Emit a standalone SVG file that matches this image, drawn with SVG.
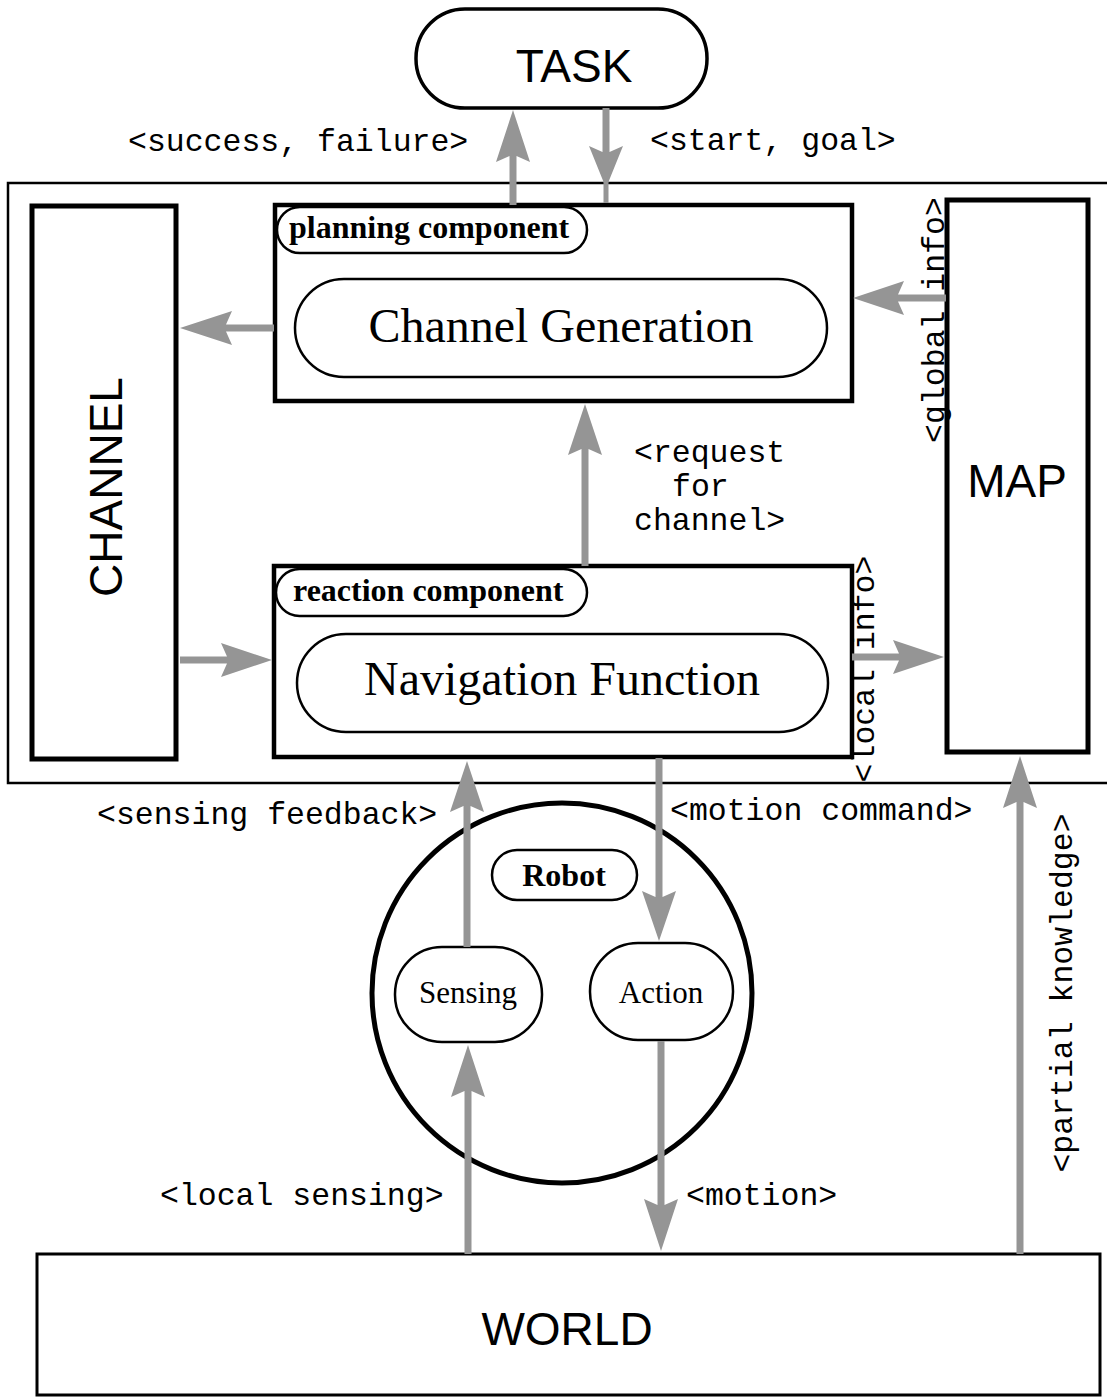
<svg xmlns="http://www.w3.org/2000/svg" width="1107" height="1399" viewBox="0 0 1107 1399">
<style>
.box{fill:#fff;stroke:#000;stroke-width:5}
.pill{fill:#fff;stroke:#000;stroke-width:2.5}
.big{font-family:"Liberation Sans",Arial,sans-serif;font-size:46px;fill:#000}
.serif{font-family:"Liberation Serif","Times New Roman",serif;fill:#000}
.mono{font-family:"Liberation Mono","Courier New",monospace;font-size:31.5px;fill:#000}
.arr{fill:#959595;stroke:none}
</style>
<rect width="1107" height="1399" fill="#fff"/>
<g id="frame"><path d="M1107,183 H8 V783 H1107" fill="none" stroke="#000" stroke-width="2.5"/></g>

<g id="task">
<rect x="416" y="9" width="291" height="99" rx="49" ry="49" fill="#fff" stroke="#000" stroke-width="3.5"/>
<text class="big" x="574" y="82" text-anchor="middle">TASK</text>
</g>

<g id="channel">
<rect class="box" x="32" y="206" width="144" height="553"/>
<text class="big" transform="translate(122,487) rotate(-90)" text-anchor="middle">CHANNEL</text>
</g>

<g id="map">
<rect class="box" x="947" y="200" width="141" height="552"/>
<text class="big" x="1017" y="497" text-anchor="middle">MAP</text>
</g>

<g id="planning">
<rect x="275" y="205" width="577" height="196" fill="#fff" stroke="#000" stroke-width="4.5"/>
<rect class="pill" x="277" y="207" width="310" height="46" rx="23" ry="23"/>
<text class="serif" x="289" y="238" font-size="32" font-weight="bold">planning component</text>
<rect class="pill" x="295" y="279" width="532" height="98" rx="49" ry="49"/>
<text class="serif" x="561" y="342" font-size="48" text-anchor="middle">Channel Generation</text>
</g>

<g id="reaction">
<rect x="274" y="566" width="578" height="191" fill="#fff" stroke="#000" stroke-width="4.5"/>
<rect class="pill" x="276" y="569" width="311" height="47" rx="23.5" ry="23.5"/>
<text class="serif" x="293" y="601" font-size="32" font-weight="bold">reaction component</text>
<rect class="pill" x="297" y="634" width="531" height="98" rx="49" ry="49"/>
<text class="serif" x="562" y="695" font-size="48" text-anchor="middle">Navigation Function</text>
</g>

<g id="robot">
<circle cx="562" cy="993" r="190" fill="#fff" stroke="#000" stroke-width="5"/>
<rect class="pill" x="492" y="850" width="145" height="50" rx="25" ry="25"/>
<text class="serif" x="564" y="886" font-size="32" font-weight="bold" text-anchor="middle">Robot</text>
</g>

<g id="sensing">
<rect class="pill" x="395" y="947" width="147" height="95" rx="47" ry="47"/>
<text class="serif" x="468" y="1003" font-size="31" text-anchor="middle">Sensing</text>
</g>

<g id="action">
<rect class="pill" x="590" y="943" width="143" height="97" rx="48" ry="48"/>
<text class="serif" x="661" y="1003" font-size="31" text-anchor="middle">Action</text>
</g>

<g id="world">
<rect x="37" y="1254" width="1063" height="141" fill="#fff" stroke="#000" stroke-width="3"/>
<text class="big" x="567" y="1345" text-anchor="middle">WORLD</text>
</g>

<g id="connectors">
<polygon class="arr" points="513,110 530,162 516.5,156 516.5,205 509.5,205 509.5,156 496,162"/>
<rect class="arr" x="603.5" y="108" width="5" height="95"/>
<polygon class="arr" points="606,188 623,146 609.5,152 609.5,108 602.5,108 602.5,152 589,146"/>
<polygon class="arr" points="180,328 232,311 226,324.5 274,324.5 274,331.5 226,331.5 232,345"/>
<polygon class="arr" points="853,298 904,281 898,294.5 946,294.5 946,301.5 898,301.5 904,315"/>
<polygon class="arr" points="585,404 602,455 588.5,449 588.5,566 581.5,566 581.5,449 568,455"/>
<polygon class="arr" points="272,660 221,643 227,656.5 180,656.5 180,663.5 227,663.5 221,677"/>
<polygon class="arr" points="944,657 893,640 899,653.5 852,653.5 852,660.5 899,660.5 893,674"/>
<polygon class="arr" points="467,761 484,812 470.5,806 470.5,947 463.5,947 463.5,806 450,812"/>
<polygon class="arr" points="659,941 676,891 662.5,897 662.5,758 655.5,758 655.5,897 642,891"/>
<polygon class="arr" points="468,1045 485,1097 471.5,1091 471.5,1254 464.5,1254 464.5,1091 451,1097"/>
<polygon class="arr" points="661,1251 678,1199 664.5,1205 664.5,1041 657.5,1041 657.5,1205 644,1199"/>
<polygon class="arr" points="1020,756 1037,808 1023.5,802 1023.5,1254 1016.5,1254 1016.5,802 1003,808"/>
</g>

<g id="labels">
<text class="mono" x="128" y="151">&lt;success, failure&gt;</text>
<text class="mono" x="650" y="150">&lt;start, goal&gt;</text>
<text class="mono" transform="translate(944,320) rotate(-90)" text-anchor="middle">&lt;global info&gt;</text>
<text class="mono" x="634" y="462" font-size="30.5">&lt;request</text>
<text class="mono" x="672" y="496" font-size="30.5">for</text>
<text class="mono" x="634" y="530" font-size="30.5">channel&gt;</text>
<text class="mono" transform="translate(874,669) rotate(-90)" text-anchor="middle">&lt;local info&gt;</text>
<text class="mono" x="97" y="824">&lt;sensing feedback&gt;</text>
<text class="mono" x="670" y="820">&lt;motion command&gt;</text>
<text class="mono" transform="translate(1072,993) rotate(-90)" text-anchor="middle">&lt;partial knowledge&gt;</text>
<text class="mono" x="160" y="1205">&lt;local sensing&gt;</text>
<text class="mono" x="686" y="1205">&lt;motion&gt;</text>
</g>
</svg>
